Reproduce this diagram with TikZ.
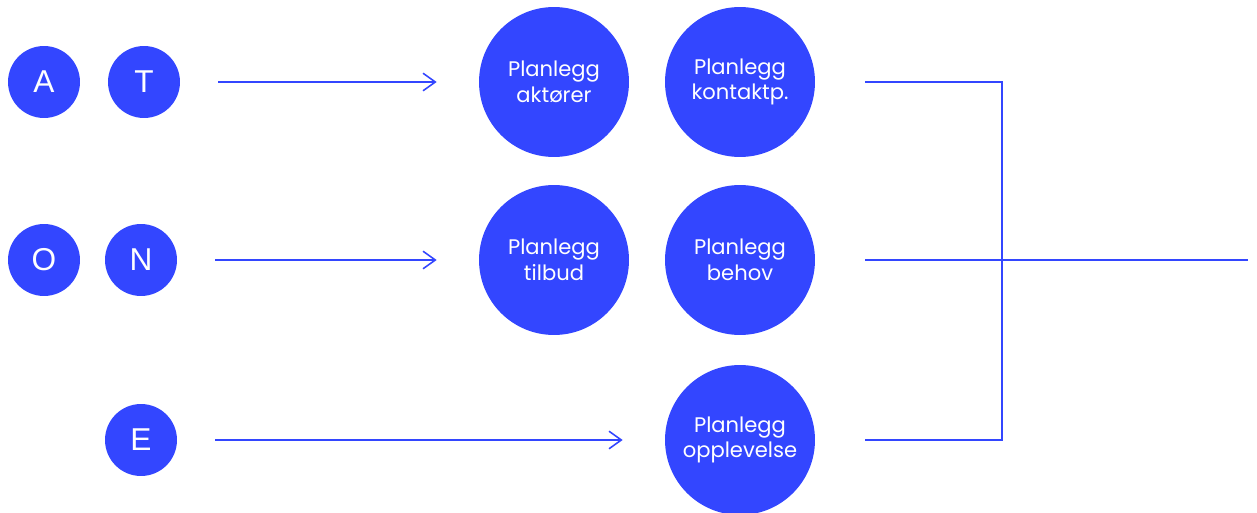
\documentclass[tikz,border=0pt]{standalone}
\usepackage{fontspec}
\setmainfont{Poppins}
\newfontfamily\arialfont{Liberation Sans}
\usetikzlibrary{arrows.meta}
\definecolor{blaa}{HTML}{3346FF}

\begin{document}
\begin{tikzpicture}[x=0.02cm,y=-0.02cm,
                    every node/.style={font=\fontsize{12}{14.7}\selectfont},
                    bokstav/.style={circle,fill=blaa,text=white,minimum size=1.44cm,inner sep=0pt,
                                    font=\arialfont\fontsize{18}{20}\selectfont},
                    planlegg/.style={circle,fill=blaa,text=white,minimum size=3cm,inner sep=0pt,align=center},
                    pil/.style={draw=blaa,line width=0.9pt,-{Straight Barb[length=7pt,width=10pt]},
                                shorten <=0.76cm,shorten >=0.84cm},
                    linje/.style={draw=blaa,line width=0.9pt}]
  \useasboundingbox (0,0) rectangle (1257,513);
  % bokstavene
  \node[bokstav] (A) at (44,82) {A};
  \node[bokstav] (T) at (144,82) {T};
  \node[bokstav] (O) at (44,260) {O};
  \node[bokstav] (N) at (141,260) {N};
  \node[bokstav] (E) at (141,440) {E};
  % planleggingssteg
  \node[planlegg] (akt) at (554,82) {Planlegg\\aktører};
  \node[planlegg] (kon) at (740,82) {Planlegg\\kontaktp.};
  \node[planlegg] (til) at (554,260) {Planlegg\\tilbud};
  \node[planlegg] (beh) at (740,260) {Planlegg\\behov};
  \node[planlegg] (opp) at (740,440) {Planlegg\\opplevelse};
  % piler inn
  \draw[pil] (T) -- (akt);
  \draw[pil] (N) -- (til);
  \draw[pil] (E) -- (opp);
  % samling til hoeyre
  \coordinate (knA) at (1002,82);
  \coordinate (knB) at (1002,440);
  \coordinate (ut) at (1248,260);
  \draw[linje,shorten <=1cm,shorten >=1cm] (kon) -- (knA) -- (knB) -- (opp);
  \draw[linje,shorten <=1cm] (beh) -- (ut);
\end{tikzpicture}
\end{document}
